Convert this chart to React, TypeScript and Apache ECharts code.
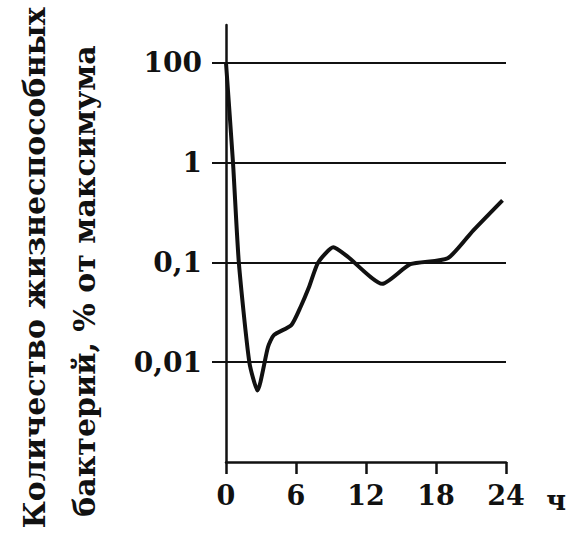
import React, { useEffect, useRef } from "react";
import * as echarts from "echarts";

// Time, hours
const hours = [0, 0.6, 1.1, 2.0, 2.7, 3.6, 4.1, 5.6, 6.4, 7.1, 7.9, 9.2, 10.4, 13.4, 15.8, 19.0, 21.2, 23.7];
// Viable bacteria, % of maximum
const percent = [100, 1, 0.1, 0.01, 0.0052, 0.0142, 0.0187, 0.0236, 0.036, 0.056, 0.1, 0.142, 0.115, 0.061, 0.096, 0.11, 0.21, 0.42];

const xTicks = [0, 6, 12, 18, 24];
const yTickValues = [0.01, 0.1, 1, 100];
const yTickLabels = ["0,01", "0,1", "1", "100"];

const titleLine1 = "Количество жизнеспособных";
const titleLine2 = "бактерий, % от максимума";
const unit = "ч";

// the axis of the original: equal steps for 0,01 / 0,1 / 1 / 100
function level(v: number): number {
  if (v <= 1) return Math.log10(v) + 3;
  return 3 + Math.log10(v) / 2;
}

const FONT = "'DejaVu Serif', 'Liberation Serif', serif";

export default function App() {
  const ref = useRef<HTMLDivElement>(null);
  useEffect(() => {
    if (!ref.current) return;
    const chart = echarts.init(ref.current, null, { renderer: "svg" });
    const yLevels = yTickValues.map(level);
    const labelMap: Record<string, string> = {};
    yLevels.forEach((l, i) => (labelMap[String(Math.round(l))] = yTickLabels[i]));
    chart.setOption({
      animation: false,
      backgroundColor: "#ffffff",
      grid: { left: 226, right: 61, top: 25, bottom: 76 },
      xAxis: {
        type: "value",
        min: 0,
        max: 24,
        interval: 6,
        axisLine: { show: true, lineStyle: { color: "#111", width: 2.5 } },
        axisTick: { show: true, length: 12, inside: false, lineStyle: { color: "#111", width: 2.5 } },
        axisLabel: {
          color: "#111",
          fontSize: 27,
          fontWeight: "bold",
          fontFamily: FONT,
          margin: 20,
          formatter: (v: number) => (xTicks.includes(v) ? String(v) : ""),
        },
        splitLine: { show: false },
      },
      yAxis: {
        type: "value",
        min: 0,
        max: 4.38,
        interval: 1,
        axisLine: { show: true, lineStyle: { color: "#111", width: 2.5 } },
        axisTick: {
          show: true,
          length: 14,
          customValues: yLevels,
          lineStyle: { color: "#111", width: 2 },
        },
        axisLabel: {
          color: "#111",
          fontSize: 28,
          fontWeight: "bold",
          fontFamily: FONT,
          margin: 24,
          customValues: yLevels,
          formatter: (v: number) => labelMap[String(Math.round(v))] ?? "",
        },
        splitLine: { show: true, lineStyle: { color: "#111", width: 2 } },
      },
      series: [
        {
          type: "line",
          data: hours.map((h, i) => [h, level(percent[i])]),
          smooth: 0.2,
          symbol: "none",
          lineStyle: { color: "#111", width: 4 },
        },
      ],
      graphic: [
        {
          type: "text",
          x: 34,
          y: 268,
          rotation: Math.PI / 2,
          style: {
            text: titleLine1,
            font: `bold 30px ${FONT}`,
            fill: "#111",
            textAlign: "center",
            textVerticalAlign: "middle",
          },
        },
        {
          type: "text",
          x: 84,
          y: 281,
          rotation: Math.PI / 2,
          style: {
            text: titleLine2,
            font: `bold 30px ${FONT}`,
            fill: "#111",
            textAlign: "center",
            textVerticalAlign: "middle",
          },
        },
        {
          type: "text",
          x: 556,
          y: 500,
          style: {
            text: unit,
            font: `bold 27px ${FONT}`,
            fill: "#111",
            textAlign: "center",
            textVerticalAlign: "middle",
          },
        },
      ],
    });
    return () => chart.dispose();
  }, []);
  return (
    <div
      ref={ref}
      style={{ position: "fixed", left: 0, top: 0, width: 567, height: 538, background: "#fff" }}
    />
  );
}
